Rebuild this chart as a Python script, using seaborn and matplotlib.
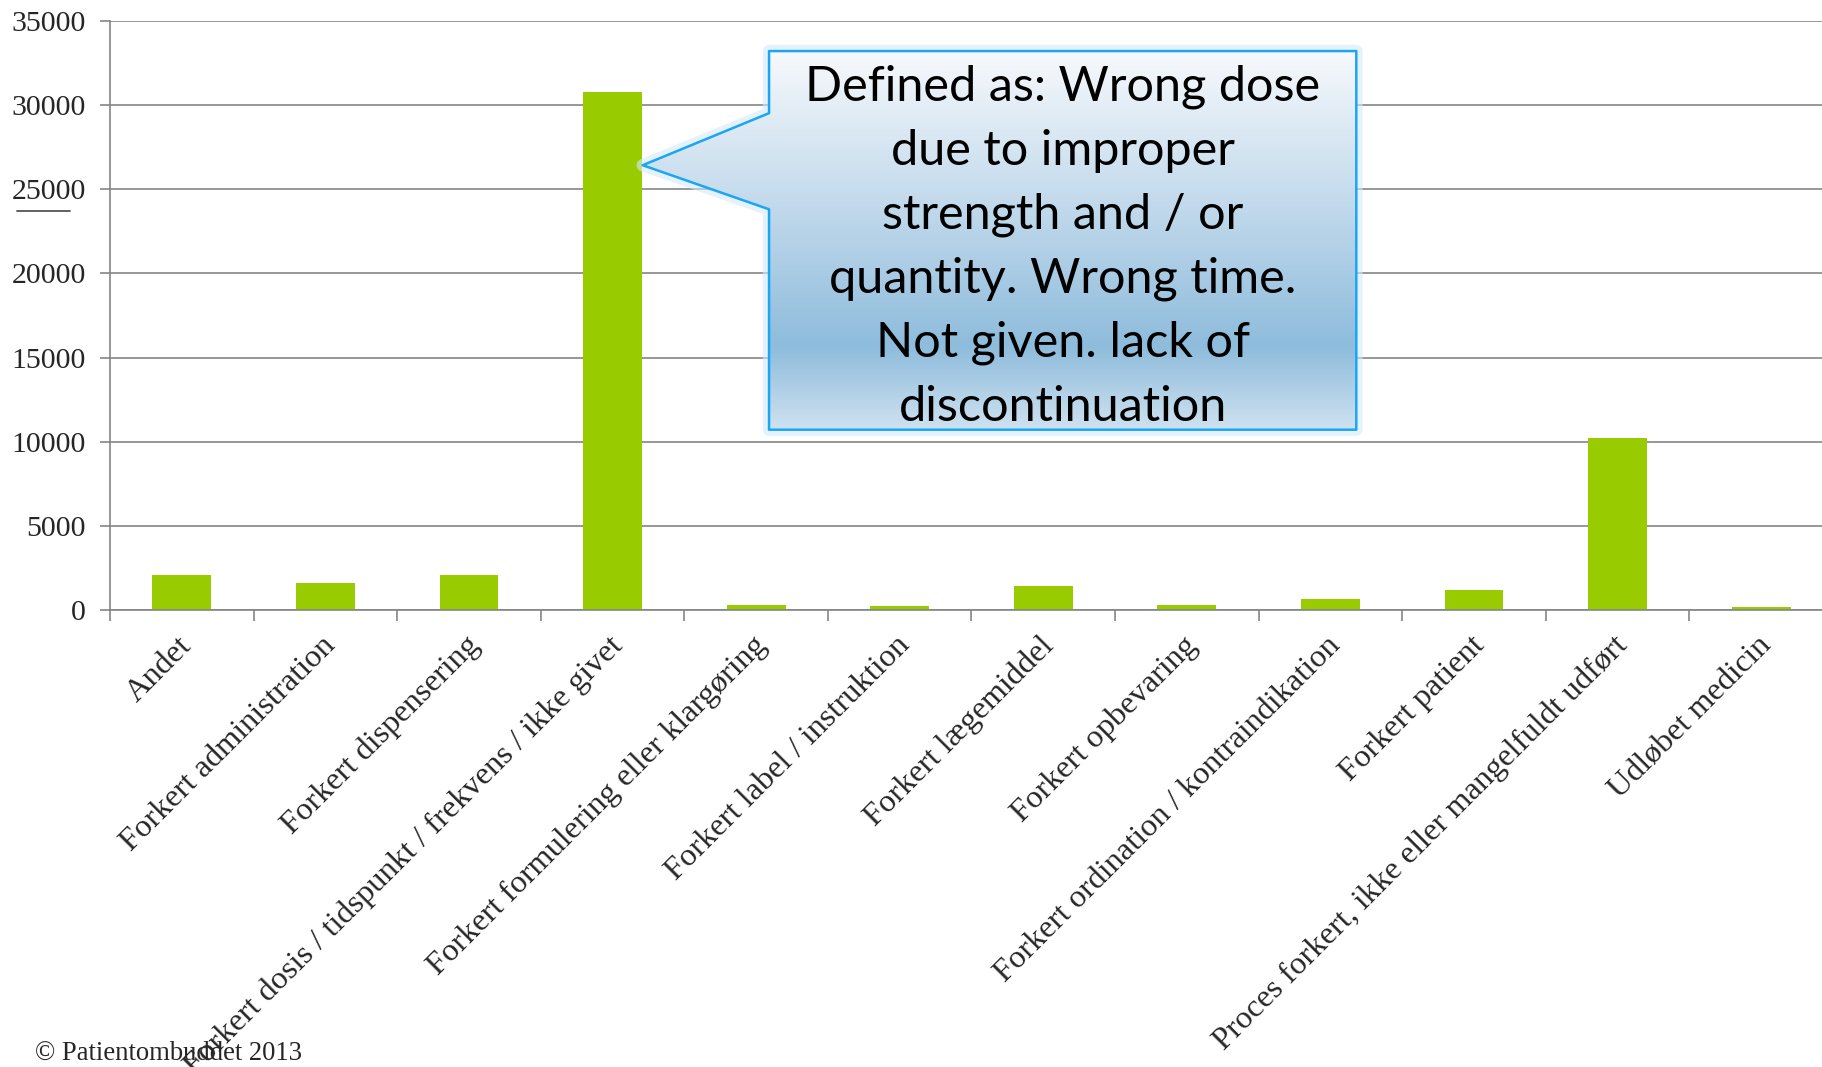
import numpy as np
import pandas as pd
import matplotlib
matplotlib.use("Agg")
import matplotlib.pyplot as plt
import seaborn as sns
from matplotlib.patches import Polygon
from matplotlib.colors import LinearSegmentedColormap
from matplotlib.lines import Line2D
from matplotlib.transforms import ScaledTranslation

categories = [
    "Andet",
    "Forkert administration",
    "Forkert dispensering",
    "Forkert dosis / tidspunkt / frekvens / ikke givet",
    "Forkert formulering eller klargøring",
    "Forkert label / instruktion",
    "Forkert lægemiddel",
    "Forkert opbevaring",
    "Forkert ordination / kontraindikation",
    "Forkert patient",
    "Proces forkert, ikke eller mangelfuldt udført",
    "Udløbet medicin",
]
counts = [2100, 1600, 2100, 30800, 300, 240, 1430, 300, 680, 1200, 10200, 160]
y_ticks = [0, 5000, 10000, 15000, 20000, 25000, 30000, 35000]
callout_text = ("Defined as: Wrong dose\ndue to improper\nstrength and / or\n"
                "quantity. Wrong time.\nNot given. lack of\ndiscontinuation")
credit = "© Patientombuddet 2013"

sns.set_style("white")
plt.rcParams["font.family"] = ["Liberation Serif", "DejaVu Serif"]

W, H = 1822, 1067
fig = plt.figure(figsize=(W / 100, H / 100), dpi=100)
ax = fig.add_axes([110 / W, 1 - 610 / H, (1833 - 110) / W, (610 - 21) / H])

df = pd.DataFrame({"cat": categories, "n": counts})
sns.barplot(data=df, x="cat", y="n", color="#99cc00", saturation=1,
            width=0.41, linewidth=0, ax=ax)

ax.set_xlabel("")
ax.set_ylabel("")
ax.set_ylim(0, 35000)
ax.set_xlim(-0.5, len(categories) - 0.5)
ax.set_yticks(y_ticks)
ax.set_yticklabels([str(v) for v in y_ticks], fontsize=21.5)
ax.yaxis.grid(True, color="#858585", linewidth=1.2)
ax.set_axisbelow(True)
for s in ["top", "right"]:
    ax.spines[s].set_visible(False)
for s in ["left", "bottom"]:
    ax.spines[s].set_color("#858585")
    ax.spines[s].set_linewidth(1.2)

ax.tick_params(axis="y", direction="out", length=7, width=1.2, color="#858585",
               pad=10.5, left=True)
ax.set_xticks(range(len(categories)))
ax.set_xticks(np.arange(-0.5, len(categories), 1.0), minor=True)
ax.tick_params(axis="x", which="minor", direction="out", length=8, width=1.2,
               color="#858585", bottom=True)
ax.tick_params(axis="x", which="major", length=0, pad=22.5)
ax.set_xticklabels(categories, rotation=45, ha="right", va="center",
                   rotation_mode="anchor", fontsize=23.3)
off = ScaledTranslation(6 / 100, 0, fig.dpi_scale_trans)
for lab in ax.get_xticklabels():
    lab.set_transform(lab.get_transform() + off)

# callout
xl, xr = 4.09, 8.18
yt, yb = 33214, 10714
tipx, tipy = 3.21, 26430
p_hi, p_lo = 29524, 23810
verts = [(xl, yt), (xr, yt), (xr, yb), (xl, yb), (xl, p_lo), (tipx, tipy), (xl, p_hi)]
glow = Polygon(verts, closed=True, facecolor="none", edgecolor="#d4eafa",
               linewidth=9, alpha=0.6, zorder=3.8, joinstyle="round")
ax.add_patch(glow)
poly = Polygon(verts, closed=True, facecolor="none", edgecolor="#1aa6f2",
               linewidth=1.8, zorder=5, joinstyle="round")
ax.add_patch(poly)
cmap = LinearSegmentedColormap.from_list(
    "callout", [(0, "#f7f9fc"), (0.45, "#bcd6ea"), (0.78, "#8ebcdc"), (1, "#cfe2f0")])
grad = np.linspace(0, 1, 256)[:, None]
im = ax.imshow(grad, extent=[tipx, xr, yb, yt], origin="upper", cmap=cmap,
               aspect="auto", zorder=4, interpolation="bilinear")
im.set_clip_path(poly)
ax.text((xl + xr) / 2, 21600, callout_text, ha="center", va="center",
        family=["Lato", "DejaVu Sans"], fontsize=35, linespacing=1.545,
        color="black", zorder=6)
ax.set_xlim(-0.5, len(categories) - 0.5)
ax.set_ylim(0, 35000)

fig.add_artist(Line2D([17 / W, 70 / W], [1 - 211 / H] * 2, transform=fig.transFigure,
                      color="#555555", linewidth=1.3))
fig.text(35 / W, 1 - 1060 / H, credit, ha="left", va="baseline", fontsize=19.2)

fig.savefig("out.png", dpi=100)
